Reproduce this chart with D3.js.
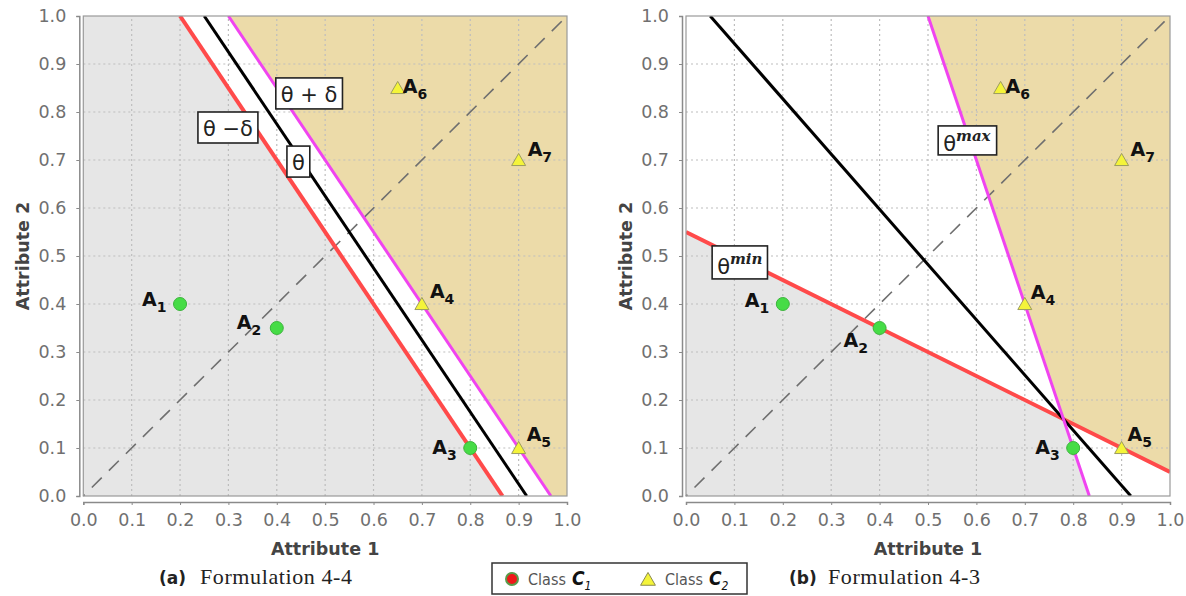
<!DOCTYPE html>
<html><head><meta charset="utf-8">
<script src="https://cdn.jsdelivr.net/npm/d3@7"></script>
<style>body{margin:0;background:#fff} svg{display:block}</style>
</head><body><svg id="c" width="1186" height="596"></svg>
<script>
// ---------- data ----------
const tickValues = [0,0.1,0.2,0.3,0.4,0.5,0.6,0.7,0.8,0.9,1.0];
const tickLabels = ["0.0","0.1","0.2","0.3","0.4","0.5","0.6","0.7","0.8","0.9","1.0"];
const pointNames = ["1","2","3","4","5","6","7"];
const attribute1 = [0.2,0.4,0.8,0.7,0.9,0.65,0.9];
const attribute2 = [0.4,0.35,0.1,0.4,0.1,0.85,0.7];
const pointClass = [1,1,1,2,2,2,2];

// panel (a) boundary lines: [x,y] endpoints
const aThetaMinusDelta = [[0.2,1],[0.8667,0]];
const aTheta = [[0.25,1],[0.9167,0]];
const aThetaPlusDelta = [[0.3,1],[0.9667,0]];
const aGrayRegion = [[0,0],[0,1],[0.2,1],[0.8667,0]];
const aTanRegion = [[0.3,1],[1,1],[1,0],[0.9667,0]];

// panel (b) boundary lines
const bThetaMin = [[0,0.55],[1,0.05]];
const bTheta = [[0.05,1],[0.919,0]];
const bThetaMax = [[0.5,1],[0.8333,0]];
const bGrayRegion = [[0,0],[0,0.55],[0.78,0.16],[0.8333,0]];
const bTanRegion = [[0.5,1],[1,1],[1,0.05],[0.78,0.16]];

const diagonal = [[0,0],[1,1]];

const axisTitleX = "Attribute 1";
const axisTitleY = "Attribute 2";
const captions = [["(a)","Formulation 4-4"],["(b)","Formulation 4-3"]];
const legendLabels = ["Class","Class"];
const legendSubs = ["1","2"];

// ---------- layout ----------
const svg = d3.select("#c");
const FONT = "'DejaVu Sans', Verdana, sans-serif";

const panels = [
  {x0:83.3, x1:567, id:"a"},
  {x0:686, x1:1170, id:"b"}
];
const yTop = 16, yBot = 496;

// label offsets (pixels) relative to each point, per panel
const labelOffsets = {
  a: [[-38,2],[-40,1],[-38,6],[8,-6],[8,-7],[5,5],[9,-4]],
  b: [[-38,3],[-36,19],[-38,6],[6,-5],[6,-7],[5,5],[9,-4]]
};

const colors = {gray:"#e6e6e6", tan:"#ecdba9", red:"#ff4a4a", magenta:"#f044f0", black:"#000",
  grid:"#bdbdbd", axis:"#8a8a8a", tick:"#707070", title:"#444"};

function drawPanel(p, cfg){
  const x = d3.scaleLinear().domain([0,1]).range([p.x0,p.x1]);
  const y = d3.scaleLinear().domain([0,1]).range([yBot,yTop]);
  const g = svg.append("g");
  const line = d3.line().x(d=>x(d[0])).y(d=>y(d[1]));

  // background
  g.append("rect").attr("x",x(0)).attr("y",y(1)).attr("width",x(1)-x(0)).attr("height",y(0)-y(1)).attr("fill","#fff");
  g.append("path").attr("d", line(cfg.gray)+"Z").attr("fill",colors.gray);
  g.append("path").attr("d", line(cfg.tan)+"Z").attr("fill",colors.tan);

  // grid
  const gridVals = tickValues.slice(1,-1);
  g.selectAll(".gv").data(gridVals).enter().append("line")
    .attr("x1",d=>x(d)).attr("x2",d=>x(d)).attr("y1",y(0)).attr("y2",y(1))
    .attr("stroke",colors.grid).attr("stroke-width",1.2).attr("stroke-dasharray","2,3");
  g.selectAll(".gh").data(gridVals).enter().append("line")
    .attr("y1",d=>y(d)).attr("y2",d=>y(d)).attr("x1",x(0)).attr("x2",x(1))
    .attr("stroke",colors.grid).attr("stroke-width",1.2).attr("stroke-dasharray","2,3");

  // diagonal dashed
  g.append("path").attr("d", line(diagonal)).attr("stroke","#6f6f6f").attr("stroke-width",1.6)
    .attr("stroke-dasharray","14,10").attr("fill","none")
    .attr("stroke-dashoffset",-12);

  // boundary lines
  const clipId = "clip"+p.id;
  svg.append("clipPath").attr("id",clipId).append("rect")
    .attr("x",x(0)).attr("y",y(1)).attr("width",x(1)-x(0)).attr("height",y(0)-y(1));
  const lg = g.append("g").attr("clip-path",`url(#${clipId})`);
  lg.append("path").attr("d",line(cfg.red)).attr("stroke",colors.red).attr("stroke-width",4).attr("fill","none");
  lg.append("path").attr("d",line(cfg.black)).attr("stroke",colors.black).attr("stroke-width",3).attr("fill","none");
  lg.append("path").attr("d",line(cfg.magenta)).attr("stroke",colors.magenta).attr("stroke-width",3).attr("fill","none");

  // plot border
  g.append("rect").attr("x",x(0)).attr("y",y(1)).attr("width",x(1)-x(0)).attr("height",y(0)-y(1))
    .attr("fill","none").attr("stroke","#9a9a9a").attr("stroke-width",1.2);

  // axes
  const xAxis = d3.axisBottom(x).tickValues(tickValues).tickFormat((d,i)=>tickLabels[i]).tickSize(3).tickPadding(9);
  const yAxis = d3.axisLeft(y).tickValues(tickValues).tickFormat((d,i)=>tickLabels[i]).tickSize(3).tickPadding(10);
  const gx = g.append("g").attr("transform",`translate(0,${yBot+6})`).call(xAxis);
  const gy = g.append("g").attr("transform",`translate(${p.x0-4},0)`).call(yAxis);
  [gx,gy].forEach(a=>{
    a.select(".domain").attr("stroke",colors.axis).attr("stroke-width",1.5);
    a.selectAll(".tick line").attr("stroke",colors.axis);
    a.selectAll(".tick text").attr("fill",colors.tick).style("font-family",FONT).style("font-size","17.5px");
  });

  // axis titles
  g.append("text").attr("x",(x(0)+x(1))/2).attr("y",555).attr("text-anchor","middle")
    .style("font-family",FONT).style("font-weight","bold").style("font-size","17.5px").attr("fill",colors.title)
    .text(axisTitleX);
  g.append("text").attr("transform",`translate(${p.x0-54},${(yTop+yBot)/2}) rotate(-90)`).attr("text-anchor","middle")
    .style("font-family",FONT).style("font-weight","bold").style("font-size","17.5px").attr("fill",colors.title)
    .text(axisTitleY);

  // points
  const pts = attribute1.map((v,i)=>({x:v,y:attribute2[i],c:pointClass[i],n:pointNames[i],i}));
  const tri = d3.symbol().type(d3.symbolTriangle).size(85);
  pts.forEach(d=>{
    if(d.c===1){
      g.append("circle").attr("cx",x(d.x)).attr("cy",y(d.y)).attr("r",6.5)
        .attr("fill","#46dc46").attr("stroke","#3cb43c").attr("stroke-width",1);
    } else {
      g.append("path").attr("d",tri).attr("transform",`translate(${x(d.x)},${y(d.y)+1.5})`)
        .attr("fill","#f4f43a").attr("stroke","#9c9c60").attr("stroke-width",1);
    }
    const off = labelOffsets[p.id][d.i];
    const t = g.append("text").attr("x",x(d.x)+off[0]).attr("y",y(d.y)+off[1])
      .style("font-family",FONT).style("font-weight","bold").style("font-size","19px").attr("fill","#111");
    t.append("tspan").text("A");
    t.append("tspan").attr("dy",6).style("font-size","14px").text(d.n);
  });

  // annotation boxes
  cfg.boxes.forEach(b=>{
    const bg = g.append("g");
    const t = bg.append("text").attr("x",x(b.x)+5).attr("y",y(b.y)+b.base)
      .style("font-family",FONT).style("font-size","21px").attr("fill","#222");
    t.append("tspan").text(b.main);
    if(b.sup){
      t.append("tspan").attr("dy",-10).style("font-family","'DejaVu Serif', serif").style("font-style","italic")
        .style("font-size","15px").style("font-weight","bold").text(b.sup);
    }
    const bb = t.node().getBBox();
    bg.insert("rect","text").attr("x",x(b.x)).attr("y",y(b.y)).attr("width",bb.width+10).attr("height",b.h)
      .attr("fill","#fff").attr("stroke","#222").attr("stroke-width",1.6);
  });
}

drawPanel(panels[0], {gray:aGrayRegion, tan:aTanRegion, red:aThetaMinusDelta, black:aTheta, magenta:aThetaPlusDelta,
  boxes:[
    {x:0.398,y:0.871,main:"θ + δ",h:31,base:24},
    {x:0.237,y:0.80,main:"θ −δ",h:31,base:24},
    {x:0.421,y:0.729,main:"θ",h:31,base:24}
  ]});
drawPanel(panels[1], {gray:bGrayRegion, tan:bTanRegion, red:bThetaMin, black:bTheta, magenta:bThetaMax,
  boxes:[
    {x:0.521,y:0.771,main:"θ",sup:"max",h:29,base:25},
    {x:0.054,y:0.521,main:"θ",sup:"min",h:33,base:28}
  ]});

// captions
[[159,200],[789,828]].forEach((pos,i)=>{
  svg.append("text").attr("x",pos[0]).attr("y",584).style("font-family",FONT).style("font-weight","bold")
    .style("font-size","17px").attr("fill","#222").text(captions[i][0]);
  svg.append("text").attr("x",pos[1]).attr("y",584).style("font-family","'Liberation Serif','DejaVu Serif',serif")
    .style("font-size","22px").style("letter-spacing","0.6px").attr("fill","#222").text(captions[i][1]);
});

// legend
const lgd = svg.append("g");
lgd.append("rect").attr("x",492).attr("y",563).attr("width",255).attr("height",31)
  .attr("fill","#fff").attr("stroke","#333").attr("stroke-width",1.5);
lgd.append("circle").attr("cx",512).attr("cy",579).attr("r",6).attr("fill","#f01818").attr("stroke","#5a9a4a").attr("stroke-width",2);
lgd.append("path").attr("d",d3.symbol().type(d3.symbolTriangle).size(95)).attr("transform","translate(648,581)")
  .attr("fill","#f4f43a").attr("stroke","#8a8a50").attr("stroke-width",1);
[528,665].forEach((px,i)=>{
  const t = lgd.append("text").attr("x",px).attr("y",585).style("font-family","'DejaVu Sans Condensed','DejaVu Sans',sans-serif")
    .style("font-size","16px").attr("fill","#555");
  t.append("tspan").attr("textLength",38).text(legendLabels[i]);
  t.append("tspan").attr("dx",6).style("font-weight","bold").style("font-style","italic").style("font-size","19px").attr("fill","#111").text("C");
  t.append("tspan").attr("dy",5).style("font-size","12px").style("font-style","italic").attr("fill","#111").text(legendSubs[i]);
});
</script>
</body></html>
